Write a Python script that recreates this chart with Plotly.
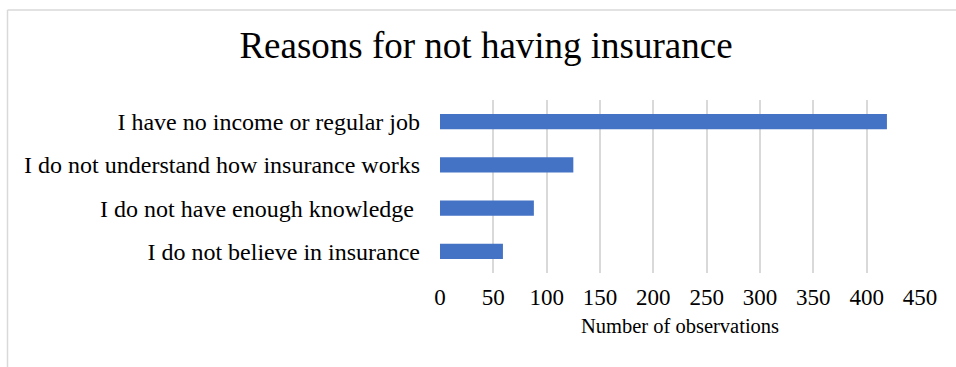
import plotly.graph_objects as go

categories = ["I do not believe in insurance", "I do not have enough knowledge ",
              "I do not understand how insurance works", "I have no income or regular job"]
values = [59, 88, 125, 419]
tick_vals = [0, 50, 100, 150, 200, 250, 300, 350, 400, 450]

FONT = "Liberation Serif, Times New Roman, serif"

fig = go.Figure(go.Bar(
    x=values, y=categories, orientation="h",
    marker=dict(color="#4472C4", line=dict(width=0)),
))

L, R, T, B = 440, 36, 100, 94
W, H = 956, 367
pw, ph = W - L - R, H - T - B

fig.update_layout(
    width=W, height=H,
    margin=dict(l=L, r=R, t=T, b=B, pad=0),
    paper_bgcolor="white", plot_bgcolor="white",
    bargap=0.65,
    showlegend=False,
    font=dict(family=FONT, color="#000000"),
    title=dict(text="Reasons for not having insurance", x=486 / W, xanchor="center",
               y=1 - 45 / H, yanchor="middle",
               font=dict(family=FONT, size=37, color="#000000")),
    xaxis=dict(range=[0, 450], tickvals=tick_vals, showgrid=True, gridcolor="#d9d9d9",
               gridwidth=1.5, zeroline=False, showline=False, ticks="",
               ticklabelstandoff=8,
               tickfont=dict(family=FONT, size=23, color="#000000"),
               title=dict(text="Number of observations", standoff=9,
                          font=dict(family=FONT, size=20.5, color="#000000"))),
    yaxis=dict(showgrid=False, zeroline=False, showline=False, ticks="",
               ticklabelstandoff=19,
               tickfont=dict(family=FONT, size=24, color="#000000")),
    shapes=[
        dict(type="line", xref="paper", yref="paper",
             x0=(7.5 - L) / pw, x1=(W + 5 - L) / pw,
             y0=1 + (T - 10) / ph, y1=1 + (T - 10) / ph,
             line=dict(color="#d9d9d9", width=1.5)),
        dict(type="line", xref="paper", yref="paper",
             x0=(7.5 - L) / pw, x1=(7.5 - L) / pw,
             y0=1 + (T - 10) / ph, y1=-(B + 5) / ph,
             line=dict(color="#d9d9d9", width=1.5)),
    ],
)

fig.write_html("out.html", config={"displayModeBar": False},
               post_script="document.body.style.margin='0';document.body.style.overflow='hidden';")
